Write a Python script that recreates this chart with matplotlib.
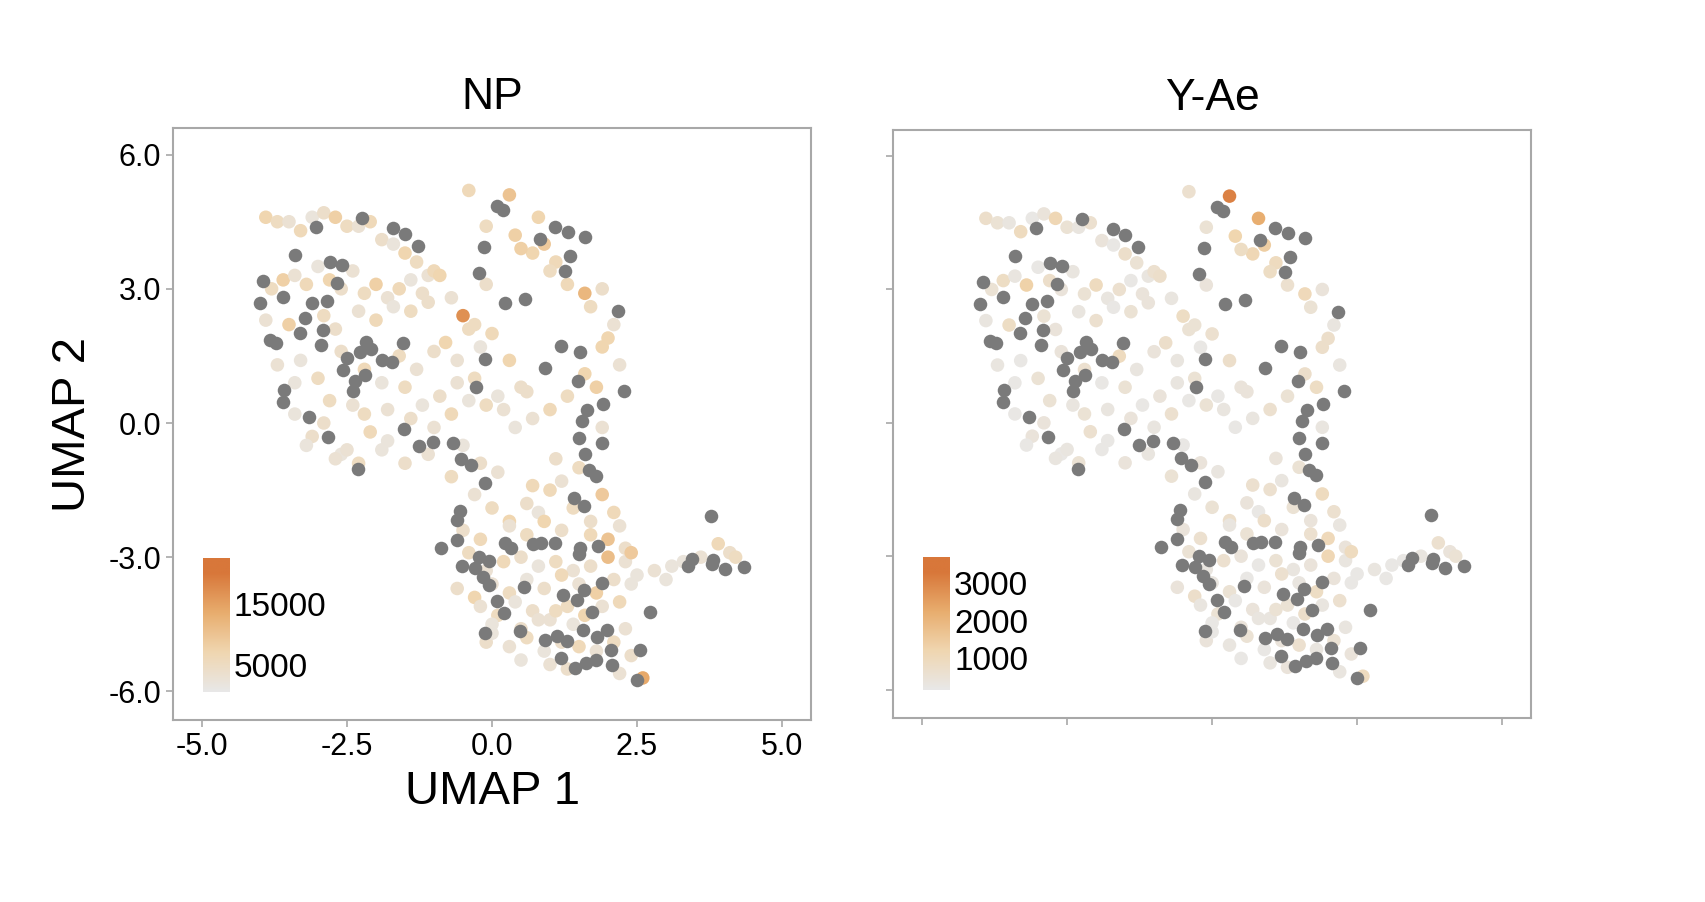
import numpy as np
import matplotlib.pyplot as plt
from matplotlib.colors import LinearSegmentedColormap

plt.rcParams['font.family'] = 'Liberation Sans'

# cells with no detected protein (grey) -- UMAP coordinates
grey_x = [-3.03, -3.40, -2.79, -2.59, -2.24, -1.71, -1.50, -1.28, -3.95, -4.00, -3.60, -3.10, -2.84, -2.67,
          -3.83, -3.72, -3.31, -2.91, -2.95, -2.50, -2.57, -2.28, -2.09, -2.17, -1.90, -1.72, -1.53, -2.36,
          -2.19, -3.59, -3.60, -3.16, -2.83, -2.31, -1.52, -1.26, -1.02, -0.67, -0.53, -0.36, -0.12, -0.55,
          -0.60, -0.88, -0.60, -0.52, -0.29, -0.22, -0.05, -0.16, -0.05, 0.22, 0.33, 0.55, 0.09, 0.21, -0.12,
          0.48, 0.71, 0.84, 1.09, 1.52, 1.83, 1.50, 1.22, 1.47, 1.59, 1.90, 1.72, 0.91, 1.12, 1.29, 1.57,
          1.81, 1.98, 2.05, 1.19, 1.43, 1.62, 1.79, 2.07, 2.55, 2.72, 2.50, -0.14, -0.22, 0.22, 0.09, 0.19,
          0.57, 0.83, 1.09, 1.31, 1.60, 1.26, 1.34, 2.17, 1.19, 1.52, 1.48, 1.91, 1.64, 1.55, 1.50, 1.90,
          1.60, 1.67, 1.79, 1.41, 1.59, 2.28, -0.12, -0.28, 0.91, 3.78, 3.79, 3.45, 3.81, 4.02, 4.34, 3.38,
          -3.22, -2.40]
grey_y = [4.38, 3.75, 3.60, 3.53, 4.58, 4.36, 4.22, 3.96, 3.17, 2.68, 2.82, 2.68, 2.73, 3.13,
          1.85, 1.79, 2.01, 2.08, 1.74, 1.45, 1.18, 1.59, 1.65, 1.81, 1.41, 1.36, 1.79, 0.94,
          1.07, 0.74, 0.47, 0.13, -0.31, -1.03, -0.13, -0.51, -0.42, -0.45, -0.80, -0.94, -1.34, -1.97,
          -2.17, -2.79, -2.61, -3.20, -3.24, -2.99, -3.08, -3.44, -3.62, -2.68, -2.79, -3.66, -3.98, -4.25, -4.69,
          -4.65, -2.70, -2.68, -2.68, -2.79, -2.75, -2.93, -3.84, -3.96, -3.73, -3.58, -4.22, -4.85, -4.76, -4.87, -4.63,
          -4.78, -4.63, -5.07, -5.25, -5.47, -5.36, -5.30, -5.41, -5.07, -4.22, -5.74, 3.93, 3.35, 2.68, 4.85, 4.76,
          2.77, 4.11, 4.38, 4.27, 4.16, 3.40, 3.73, 2.50, 1.72, 1.59, 0.94, 0.42, 0.29, 0.04, -0.34, -0.45,
          -0.69, -1.05, -1.18, -1.68, -1.85, 0.72, 1.43, 0.80, 1.23, -2.08, -3.15, -3.04, -3.06, -3.26, -3.22, -3.20,
          2.35, 0.72]

# cells with signal: UMAP coordinates, NP and Y-Ae abundance
col_x = [-3.9, -3.7, -3.5, -3.3, -3.1, -2.9, -2.7, -2.5, -2.3, -2.1, -1.9, -1.7, -1.5, -1.3, -1.1,
         -3.8, -3.6, -3.4, -3.2, -3.0, -2.8, -2.6, -2.4, -2.2, -2.0, -1.8, -1.6, -1.4, -1.2, -1.0,
         -3.9, -3.5, -3.3, -2.9, -2.7, -2.3, -2.0, -1.7, -1.4, -1.1, -0.9, -0.7, -0.5, -0.3, -0.1,
         -3.7, -3.4, -3.0, -2.6, -2.4, -2.2, -1.9, -1.6, -1.3, -1.0, -0.8, -0.6, -0.4, -0.2, 0.0,
         -3.4, -3.1, -2.8, -2.6, -2.1, -1.8, -1.5, -1.2, -0.9, -0.6, -0.3, 0.1, 0.3, 0.5, 0.7,
         -3.2, -2.9, -2.5, -2.2, -1.8, -1.4, -1.0, -0.7, -0.4, -0.1, 0.2, 0.4, 0.6, 0.9, 1.1,
         -2.7, -2.3, -1.9, -1.5, -1.1, -0.7, -0.5, -0.2, 0.1, 1.3, 1.6, 1.9, 2.1, 1.7, 2.0,
         -0.3, 0.0, 0.3, 0.6, 0.8, 1.0, 1.2, 1.4, 1.7, 1.9, 2.1, 2.2, 0.4, 0.7, 1.0,
         -0.5, -0.2, 0.3, 0.6, 0.9, 1.2, 1.7, 2.0, 2.3, 1.8, 2.2, 1.3, 1.0, 1.6, 1.9,
         -0.4, -0.1, 0.2, 0.5, 0.8, 1.1, 1.4, 1.7, 2.0, 2.3, 2.5, 2.8, 3.1, 3.3, 3.6,
         -0.6, -0.3, 0.0, 0.3, 0.6, 0.9, 1.2, 1.5, 1.8, 2.1, 2.4, 3.0, 3.9, 4.1, 4.2,
         -0.2, 0.1, 0.4, 0.7, 1.0, 1.3, 1.6, 1.9, 2.2, 0.0, 0.5, 0.8, 1.1, 1.4, 2.3,
         -0.1, 0.3, 0.6, 0.9, 1.2, 1.5, 1.8, 2.1, 2.4, 2.6, 1.0, 0.5, 1.3, 2.2, 0.0,
         -0.4, 0.8, 0.3, -0.1, 0.5, 1.9, 2.4, 1.5, 1.1, 0.7]
col_y = [4.6, 4.5, 4.5, 4.3, 4.6, 4.7, 4.6, 4.4, 4.4, 4.5, 4.1, 4.0, 3.8, 3.6, 3.3,
         3.0, 3.2, 3.3, 3.1, 3.5, 3.2, 3.0, 3.4, 2.9, 3.1, 2.8, 3.0, 3.2, 2.9, 3.4,
         2.3, 2.2, 1.4, 2.4, 2.1, 2.5, 2.3, 2.6, 2.5, 2.7, 3.3, 2.8, 2.4, 2.2, 3.1,
         1.3, 0.9, 1.0, 1.6, 0.4, 1.2, 0.9, 1.5, 1.2, 1.6, 1.8, 1.4, 2.1, 1.7, 2.0,
         0.2, -0.3, 0.5, -0.7, -0.2, 0.3, 0.8, 0.4, 0.6, 0.9, 1.0, 0.6, 1.4, 0.8, 0.1,
         -0.5, 0.0, -0.6, 0.2, -0.4, 0.1, -0.1, 0.2, 0.5, 0.4, 0.3, -0.1, 0.7, 4.0, 3.6,
         -0.8, -0.9, -0.6, -0.9, -0.7, -1.2, -0.5, -0.9, -1.1, 3.1, 2.9, 3.0, 2.2, 2.6, 1.9,
         -1.6, -1.9, -2.2, -1.8, -2.0, -1.5, -1.3, -1.9, -2.2, -1.6, -2.0, -2.3, 4.2, 3.8, 3.4,
         -2.4, -2.6, -2.3, -2.5, -2.2, -2.4, -2.5, -2.6, -2.8, 0.8, 1.3, 0.6, 0.3, 1.1, -0.1,
         -2.9, -3.3, -3.1, -3.0, -3.2, -3.1, -3.3, -3.2, -3.0, -3.1, -3.4, -3.3, -3.2, -3.1, -3.0,
         -3.7, -3.9, -3.6, -3.8, -3.5, -3.7, -3.4, -3.6, -3.8, -3.5, -3.6, -3.5, -2.7, -2.9, -3.0,
         -4.1, -4.3, -4.0, -4.2, -4.4, -4.1, -4.3, -4.1, -4.0, -4.5, -4.6, -4.4, -4.2, -4.5, -4.6,
         -4.9, -5.0, -4.8, -5.1, -4.9, -5.0, -5.1, -4.9, -5.2, -5.7, -5.4, -5.3, -5.5, -5.6, -4.7,
         5.2, 4.6, 5.1, 4.4, 3.9, 1.7, -2.9, -1.0, -0.8, -1.4]
np_val = [7, 5, 3, 6, 2, 4, 8, 5, 3, 6, 4, 2, 7, 5, 3,
          5, 8, 3, 6, 2, 7, 4, 3, 5, 8, 3, 6, 2, 4, 6,
          3, 8, 2, 5, 4, 3, 6, 2, 5, 4, 7, 3, 17, 5, 4,
          3, 2, 5, 4, 3, 6, 2, 5, 3, 4, 7, 3, 5, 2, 6,
          2, 4, 5, 2, 6, 3, 5, 2, 4, 3, 5, 2, 7, 4, 3,
          2, 4, 3, 5, 2, 4, 3, 6, 2, 5, 3, 2, 4, 9, 6,
          3, 5, 2, 4, 3, 5, 2, 4, 3, 6, 12, 4, 3, 5, 7,
          3, 5, 7, 4, 2, 6, 3, 5, 4, 9, 6, 3, 8, 7, 5,
          4, 6, 3, 5, 7, 4, 6, 10, 4, 8, 3, 5, 6, 7, 3,
          5, 3, 6, 4, 2, 5, 3, 4, 11, 3, 2, 3, 2, 2, 3,
          4, 7, 3, 5, 2, 4, 6, 3, 8, 4, 2, 2, 6, 4, 5,
          3, 5, 2, 4, 3, 5, 7, 3, 6, 2, 4, 3, 5, 2, 3,
          4, 3, 5, 2, 4, 6, 3, 5, 4, 14, 3, 2, 4, 3, 2,
          6, 7, 10, 5, 8, 7, 9, 5, 4, 6]
yae_val = [700, 500, 300, 900, 200, 400, 1100, 500, 300, 600, 400, 200, 700, 500, 300,
           500, 800, 300, 1300, 200, 700, 400, 300, 500, 900, 300, 600, 200, 400, 600,
           300, 800, 200, 500, 400, 300, 600, 200, 500, 400, 700, 300, 800, 500, 400,
           300, 200, 500, 400, 300, 600, 200, 900, 300, 400, 700, 300, 500, 200, 600,
           200, 400, 500, 200, 600, 300, 500, 200, 400, 300, 500, 200, 700, 400, 300,
           200, 400, 300, 500, 200, 400, 300, 600, 200, 500, 300, 200, 400, 1400, 900,
           300, 500, 200, 400, 300, 500, 200, 400, 300, 600, 1000, 400, 300, 500, 700,
           300, 500, 700, 400, 200, 600, 300, 500, 400, 900, 600, 300, 1200, 1100, 800,
           400, 600, 300, 500, 700, 400, 600, 1000, 400, 800, 300, 500, 600, 700, 300,
           500, 300, 600, 400, 200, 500, 300, 400, 1100, 300, 200, 300, 200, 200, 300,
           400, 700, 300, 500, 200, 400, 600, 300, 800, 400, 200, 200, 600, 400, 500,
           300, 500, 200, 400, 300, 500, 700, 300, 600, 200, 400, 300, 500, 200, 300,
           400, 300, 500, 200, 400, 600, 300, 500, 400, 900, 300, 200, 400, 300, 200,
           600, 2200, 3100, 500, 800, 700, 900, 500, 400, 600]

cmap = LinearSegmentedColormap.from_list('np', ['#e8e8e8', '#f0d6b0', '#e8ad6e', '#d8773a'])
grey = '#7a7a7a'
spine_col = '#a8a8a8'

fig = plt.figure(figsize=(17.06, 9.02), dpi=100)
ax1 = fig.add_axes([0.1014, 0.2018, 0.374, 0.656])
ax2 = fig.add_axes([0.5235, 0.2040, 0.374, 0.652])

panels = [(ax1, 'NP', np.array(np_val) * 1000, 500, 20000, [5000, 15000]),
          (ax2, 'Y-Ae', np.array(yae_val), 125, 3300, [1000, 2000, 3000])]

for ax, title, vals, vmin, vmax, cticks in panels:
    ax.scatter(col_x, col_y, c=vals, cmap=cmap, vmin=vmin, vmax=vmax, s=95, linewidths=0)
    ax.scatter(grey_x, grey_y, color=grey, s=95, linewidths=0)
    ax.set_xlim(-5.5, 5.5)
    ax.set_ylim(-6.64, 6.59)
    ax.set_xticks([-5, -2.5, 0, 2.5, 5])
    ax.set_yticks([-6, -3, 0, 3, 6])
    ax.set_title(title, fontsize=32, pad=14)
    for s in ax.spines.values():
        s.set_color(spine_col)
        s.set_linewidth(1.5)
    ax.tick_params(colors=spine_col, labelcolor='black', labelsize=22, length=5, width=1.2)

    # gradient legend
    cax = ax.inset_axes([0.047, 0.047, 0.042, 0.226])
    lo, hi = vmin, vmax * 1.12
    grad = np.linspace(lo, hi, 200).reshape(-1, 1)
    cax.imshow(grad, cmap=cmap, vmin=vmin, vmax=vmax, aspect='auto', origin='lower',
               extent=[0, 1, lo, hi])
    cax.set_xticks([])
    cax.yaxis.tick_right()
    cax.set_yticks(cticks)
    cax.set_yticklabels([str(t) for t in cticks])
    cax.tick_params(axis='y', length=0, labelsize=24, pad=3)
    for s in cax.spines.values():
        s.set_visible(False)

ax1.set_xticklabels(['-5.0', '-2.5', '0.0', '2.5', '5.0'])
ax1.set_yticklabels(['-6.0', '-3.0', '0.0', '3.0', '6.0'])
ax1.set_xlabel('UMAP 1', fontsize=34, labelpad=6)
ax1.set_ylabel('UMAP 2', fontsize=34, labelpad=10)
ax2.set_xticklabels([])
ax2.set_yticklabels([])

fig.savefig('out.png', dpi=100)
